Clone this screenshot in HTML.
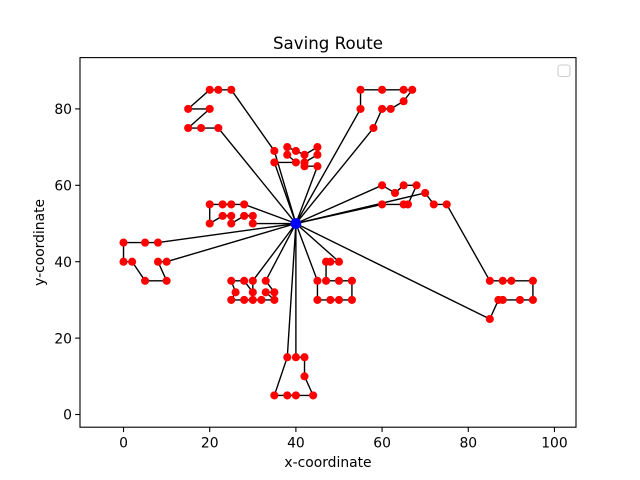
<!DOCTYPE html>
<html>
<head>
<meta charset="utf-8">
<title>Saving Route</title>
<style>
html,body{margin:0;padding:0;background:#fff;}
svg{display:block;}
text{font-family:"DejaVu Sans","Liberation Sans",sans-serif;fill:#000;}
</style>
</head>
<body>
<svg id="chart" xmlns="http://www.w3.org/2000/svg" width="640" height="480" viewBox="0 0 640 480">
  <rect x="0" y="0" width="640" height="480" fill="#fff"/>
  <rect x="80" y="57.6" width="496" height="369.6" fill="#fff"/>
  <g id="routes"></g>
  <g id="customers"></g>
  <g id="depot"></g>
  <rect x="80" y="57.6" width="496" height="369.6" fill="none" stroke="#000" stroke-width="1.1"/>
  <g id="x-axis"></g>
  <g id="y-axis"></g>
  <text x="328" y="49" font-size="16.67" text-anchor="middle">Saving Route</text>
  <text x="328" y="467" font-size="13.89" text-anchor="middle">x-coordinate</text>
  <text x="44" y="242.4" font-size="13.89" text-anchor="middle" transform="rotate(-90 44 242.4)">y-coordinate</text>
  <rect x="558" y="65" width="12" height="11.5" rx="2.5" ry="2.5" fill="#fff" stroke="#ccc" stroke-width="1.1"/>
</svg>
<script>
const depotPoint = [40, 50];
const routeTopLeft = [[22,75],[18,75],[15,75],[20,80],[15,80],[20,85],[22,85],[25,85],[35,69]];
const routeTopCenter = [[35,66],[40,66],[38,68],[38,70],[40,69],[42,68],[45,70],[45,68],[42,66],[42,65],[45,65]];
const routeTopRight = [[55,80],[55,85],[60,85],[65,85],[67,85],[65,82],[62,80],[60,80],[58,75]];
const routeMidRight = [[60,55],[65,55],[66,55],[68,60],[65,60],[63,58],[60,60]];
const routeFarRight = [[70,58],[72,55],[75,55],[85,35],[88,35],[90,35],[95,35],[95,30],[92,30],[88,30],[87,30],[85,25]];
const routeMidLeft = [[28,55],[25,55],[23,55],[20,55],[20,50],[23,52],[25,52],[25,50],[28,52],[30,52],[30,50]];
const routeFarLeft = [[8,45],[5,45],[0,45],[0,40],[2,40],[5,35],[10,35],[8,40],[10,40]];
const routeBottomLeft = [[33,35],[35,32],[33,32],[35,30],[32,30],[30,30],[28,30],[25,30],[26,32],[25,35],[28,35],[30,32],[30,35]];
const routeBottomRight = [[50,40],[48,40],[47,40],[47,35],[50,35],[53,35],[53,30],[50,30],[48,30],[45,30],[45,35]];
const routeBottom = [[38,15],[35,5],[38,5],[40,5],[44,5],[42,10],[42,15],[40,15]];
const xTickLabels = [0,20,40,60,80,100];
const yTickLabels = [0,20,40,60,80];
const xDomain = [-10.1, 105];
const yDomain = [-3.32, 93.43];

const routes = [routeTopLeft,routeTopCenter,routeTopRight,routeMidRight,routeFarRight,routeMidLeft,routeFarLeft,routeBottomLeft,routeBottomRight,routeBottom];
const NS = 'http://www.w3.org/2000/svg';
const plot = {left:80,right:576,top:57.6,bottom:427.2};
function xScale(v){return plot.left+(v-xDomain[0])/(xDomain[1]-xDomain[0])*(plot.right-plot.left);}
function yScale(v){return plot.bottom-(v-yDomain[0])/(yDomain[1]-yDomain[0])*(plot.bottom-plot.top);}
function make(tag,parent,attrs){
  const el=document.createElementNS(NS,tag);
  for(const k in attrs){el.setAttribute(k,attrs[k]);}
  parent.appendChild(el);
  return el;
}
const routeLayer=document.getElementById('routes');
const customerLayer=document.getElementById('customers');
const depotLayer=document.getElementById('depot');
routes.forEach(function(route){
  const full=[depotPoint].concat(route,[depotPoint]);
  const line=make('polyline',routeLayer,{points:full.map(function(p){return xScale(p[0]).toFixed(2)+','+yScale(p[1]).toFixed(2);}).join(' '),fill:'none',stroke:'#000','stroke-width':1.39,'stroke-linejoin':'round'});
  
  
  route.forEach(function(p){
    const dot=make('circle',customerLayer,{cx:xScale(p[0]).toFixed(2),cy:yScale(p[1]).toFixed(2),r:4.05,fill:'#ff0000'});
    
    
  });
});
const depotDot=make('circle',depotLayer,{cx:xScale(depotPoint[0]).toFixed(2),cy:yScale(depotPoint[1]).toFixed(2),r:5.4,fill:'#0000ff'});



const xAxis=document.getElementById('x-axis');
xTickLabels.forEach(function(v){
  const x=xScale(v);
  const tick=make('line',xAxis,{x1:x,x2:x,y1:plot.bottom,y2:plot.bottom+4.86,stroke:'#000','stroke-width':1.1});
  
  
  const label=make('text',xAxis,{x:x,y:447.5,'font-size':13.89,'text-anchor':'middle'});
  label.textContent=v;
  
  
});
const yAxis=document.getElementById('y-axis');
yTickLabels.forEach(function(v){
  const y=yScale(v);
  const tick=make('line',yAxis,{x1:plot.left-4.86,x2:plot.left,y1:y,y2:y,stroke:'#000','stroke-width':1.1});
  
  
  const label=make('text',yAxis,{x:72,y:y+5.2,'font-size':13.89,'text-anchor':'end'});
  label.textContent=v;
  
  
});
</script>
</body>
</html>
